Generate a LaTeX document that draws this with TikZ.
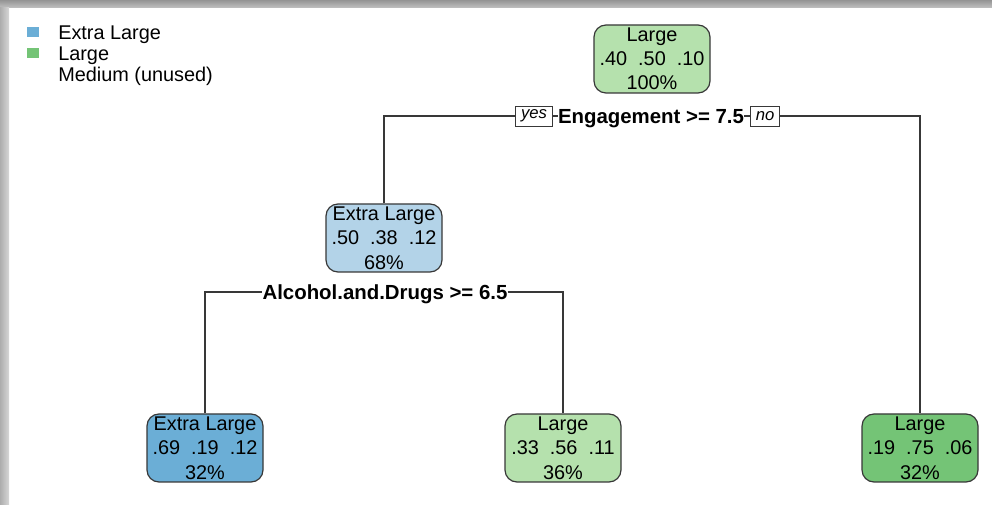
\documentclass[tikz,border=0pt]{standalone}
\usepackage{fontspec}
\setmainfont{Liberation Sans}
\usetikzlibrary{positioning}
\definecolor{treeLine}{gray}{0.22}
\definecolor{blueDark}{HTML}{6BAED6}
\definecolor{blueLight}{HTML}{B3D3E8}
\definecolor{greenDark}{HTML}{74C476}
\definecolor{greenLight}{HTML}{B5E1AD}

\begin{document}
\begin{tikzpicture}[x=0.75pt, y=-0.75pt,
    treebox/.style={draw=treeLine, line width=0.9pt, rounded corners=9pt, minimum width=87pt, minimum height=51pt, inner sep=0pt, align=center, font=\fontsize{14.9}{18.2}\selectfont},
    splitlabel/.style={fill=white, inner sep=0pt, text height=10.9pt, text depth=0pt, font=\fontsize{15.3}{17}\selectfont\bfseries},
    yesno/.style={draw=treeLine, fill=white, line width=0.6pt, inner xsep=4pt, inner ysep=0pt, minimum height=15pt, font=\fontsize{12.5}{14}\selectfont\itshape},
    legendkey/.style={minimum width=8.5pt, minimum height=7.5pt, inner sep=0pt},
    legendtext/.style={anchor=base west, inner sep=0pt, font=\fontsize{14.9}{17}\selectfont},
    branch/.style={treeLine, line width=1pt}]
    \useasboundingbox (0,0) rectangle (992,505);

    % window shadow
    \shade[top color=black!42, bottom color=black!24] (0,0) rectangle (992,8);
    \shade[left color=black!32, right color=black!16] (0,8) rectangle (9,505);

    % legend
    \node[legendkey, fill=blueDark] (keyXL) at (33,32) {};
    \node[legendkey, fill=greenDark] (keyL) at (33,53) {};
    \node[legendtext] (legXL) at (58,40) {Extra Large};
    \node[legendtext] (legL) at (58,61) {Large};
    \node[legendtext] (legM) at (58,82) {Medium (unused)};

    % tree nodes
    \node[treebox, fill=greenLight] (root) at (652,59) {Large\\.40~~.50~~.10\\100\%};
    \node[treebox, fill=blueLight] (n2) at (384,238) {Extra Large\\.50~~.38~~.12\\68\%};
    \node[treebox, fill=blueDark] (n4) at (205,448) {Extra Large\\.69~~.19~~.12\\32\%};
    \node[treebox, fill=greenLight] (n5) at (563,448) {Large\\.33~~.56~~.11\\36\%};
    \node[treebox, fill=greenDark] (n3) at (920,448) {Large\\.19~~.75~~.06\\32\%};

    % splits
    \node[splitlabel] (split1) at (651,116) {Engagement >= 7.5};
    \node[yesno, left=3.75pt of split1] (yes) {yes};
    \node[yesno, right=4.5pt of split1] (no) {no};
    \node[splitlabel] (split2) at (385,292) {Alcohol.and.Drugs >= 6.5};

    % branches
    \draw[branch] (n2.north) |- (yes.west);
    \draw[branch] (yes.east) -- (split1.west);
    \draw[branch] (split1.east) -- (no.west);
    \draw[branch] (no.east) -| (n3.north);
    \draw[branch] (n4.north) |- (split2.west);
    \draw[branch] (split2.east) -| (n5.north);
\end{tikzpicture}
\end{document}
